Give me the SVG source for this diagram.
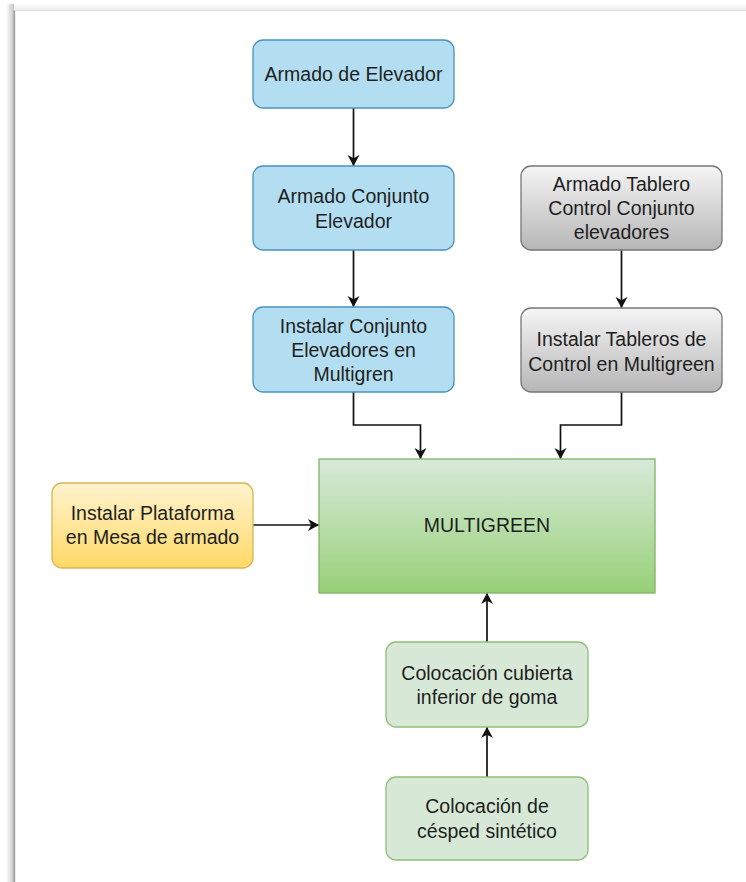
<svg xmlns="http://www.w3.org/2000/svg" width="746" height="882" viewBox="0 0 746 882">
  <defs>
    <linearGradient id="pageShadowL" x1="0" y1="0" x2="1" y2="0">
      <stop offset="0" stop-color="#ffffff"/>
      <stop offset="1" stop-color="#c4c4c4"/>
    </linearGradient>
    <linearGradient id="pageShadowT" x1="0" y1="0" x2="0" y2="1">
      <stop offset="0" stop-color="#ffffff"/>
      <stop offset="1" stop-color="#ececec"/>
    </linearGradient>
    <linearGradient id="gradGray" x1="0" y1="0" x2="0" y2="1">
      <stop offset="0" stop-color="#f5f5f5"/>
      <stop offset="1" stop-color="#b6b6b6"/>
    </linearGradient>
    <linearGradient id="gradYellow" x1="0" y1="0" x2="0" y2="1">
      <stop offset="0" stop-color="#fff3cf"/>
      <stop offset="1" stop-color="#ffd966"/>
    </linearGradient>
    <linearGradient id="gradGreen" x1="0" y1="0" x2="0" y2="1">
      <stop offset="0" stop-color="#d8eadb"/>
      <stop offset="1" stop-color="#97d077"/>
    </linearGradient>
    <marker id="arrow" viewBox="0 0 11 13" refX="11" refY="6.5" markerWidth="11" markerHeight="13" markerUnits="userSpaceOnUse" orient="auto">
      <path d="M0,0.5 L11,6.5 L0,12.5 L3.2,6.5 Z" fill="#111111"/>
    </marker>
    <style>
      .lbl { font-family: "Liberation Sans", Arial, Helvetica, sans-serif; font-size: 19.5px; fill: #1e1e1e; text-anchor: middle; }
      .blue { fill: #b3def1; stroke: #4a93c0; stroke-width: 1.3; }
      .gray { fill: url(#gradGray); stroke: #777777; stroke-width: 1.3; }
      .yellow { fill: url(#gradYellow); stroke: #d6b656; stroke-width: 1.3; }
      .green { fill: #d7e9d6; stroke: #8fbf78; stroke-width: 1.3; }
      .main { fill: url(#gradGreen); stroke: #82b366; stroke-width: 1.3; }
      .edge { fill: none; stroke: #111111; stroke-width: 1.7; marker-end: url(#arrow); }
    </style>
  </defs>

  <!-- page background with its drop shadow on the left and top edges -->
  <rect x="0" y="0" width="746" height="882" fill="#ffffff"/>
  <rect x="6" y="4" width="8" height="878" fill="url(#pageShadowL)"/>
  <rect x="14" y="3" width="732" height="7" fill="url(#pageShadowT)"/>
  <line x1="14.3" y1="10" x2="14.3" y2="882" stroke="#a3a3a3" stroke-width="1.8"/>
  <line x1="14" y1="10.5" x2="746" y2="10.5" stroke="#e0e0e0" stroke-width="1"/>

  <!-- connectors -->
  <g id="connectors">
    <path class="edge" d="M353.5,108 L353.5,166"/>
    <path class="edge" d="M353.5,250 L353.5,307"/>
    <path class="edge" d="M353.5,392 L353.5,425 L420.5,425 L420.5,459"/>
    <path class="edge" d="M621.5,250 L621.5,308"/>
    <path class="edge" d="M621.5,392 L621.5,425 L560.5,425 L560.5,459"/>
    <path class="edge" d="M253,525 L319,525"/>
    <path class="edge" d="M487,642 L487,593"/>
    <path class="edge" d="M487,777 L487,727"/>
  </g>

  <!-- process steps -->
  <g id="armado-elevador">
    <rect class="blue" x="253" y="40" width="201" height="68" rx="10"/>
    <text class="lbl" x="353.5" y="80.5">Armado de Elevador</text>
  </g>
  <g id="armado-conjunto">
    <rect class="blue" x="253" y="166" width="201" height="84" rx="10"/>
    <text class="lbl" x="353.5" y="202.5">Armado Conjunto</text>
    <text class="lbl" x="353.5" y="227.5">Elevador</text>
  </g>
  <g id="instalar-conjunto">
    <rect class="blue" x="253" y="307" width="201" height="85" rx="10"/>
    <text class="lbl" x="353.5" y="332.5">Instalar Conjunto</text>
    <text class="lbl" x="353.5" y="356.5">Elevadores en</text>
    <text class="lbl" x="353.5" y="380.5">Multigren</text>
  </g>
  <g id="armado-tablero">
    <rect class="gray" x="521" y="166" width="201" height="84" rx="10"/>
    <text class="lbl" x="621.5" y="191">Armado Tablero</text>
    <text class="lbl" x="621.5" y="215">Control Conjunto</text>
    <text class="lbl" x="621.5" y="239">elevadores</text>
  </g>
  <g id="instalar-tableros">
    <rect class="gray" x="521" y="308" width="201" height="84" rx="10"/>
    <text class="lbl" x="621.5" y="345.5">Instalar Tableros de</text>
    <text class="lbl" x="621.5" y="370.5">Control en Multigreen</text>
  </g>
  <g id="instalar-plataforma">
    <rect class="yellow" x="52" y="483" width="201" height="85" rx="10"/>
    <text class="lbl" x="152.5" y="520">Instalar Plataforma</text>
    <text class="lbl" x="152.5" y="544">en Mesa de armado</text>
  </g>
  <g id="multigreen">
    <rect class="main" x="319" y="459" width="336" height="134"/>
    <text class="lbl" x="487" y="531.5">MULTIGREEN</text>
  </g>
  <g id="cubierta-goma">
    <rect class="green" x="386" y="642" width="202" height="85" rx="10"/>
    <text class="lbl" x="487" y="679.5">Colocación cubierta</text>
    <text class="lbl" x="487" y="704">inferior de goma</text>
  </g>
  <g id="cesped-sintetico">
    <rect class="green" x="386" y="777" width="202" height="83" rx="10"/>
    <text class="lbl" x="487" y="812.5">Colocación de</text>
    <text class="lbl" x="487" y="837.5">césped sintético</text>
  </g>
</svg>
